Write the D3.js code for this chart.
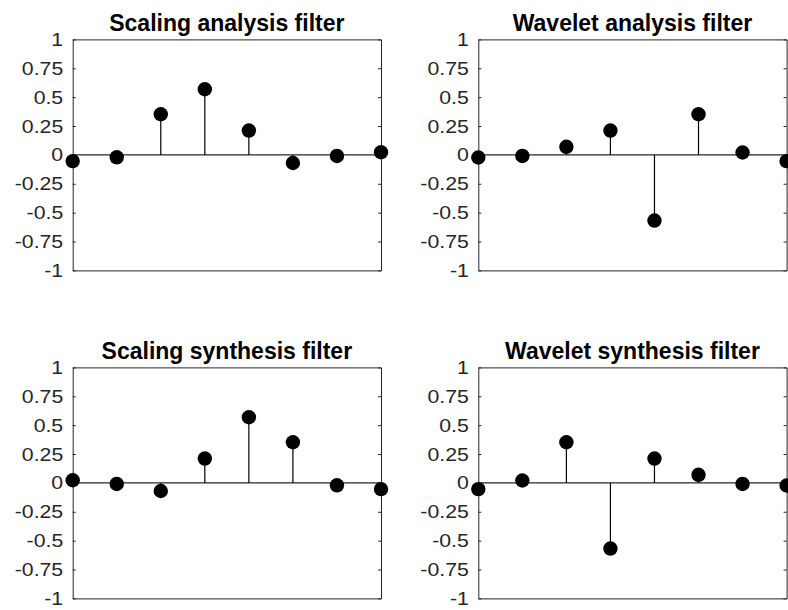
<!DOCTYPE html>
<html>
<head>
<meta charset="utf-8">
<script src="https://cdn.jsdelivr.net/npm/d3@7"></script>
<style>
  html, body { margin: 0; padding: 0; background: #fff; }
  svg { display: block; }
</style>
</head>
<body>
<svg id="chart" width="788" height="610"></svg>
<script>
// Filter taps (8 coefficients each)
const sampleIndex = [1, 2, 3, 4, 5, 6, 7, 8];
const scalingAnalysis  = [-0.0536, -0.0209, 0.3519, 0.5683, 0.2107, -0.0701, -0.0089, 0.0228];
const waveletAnalysis  = [-0.0228, -0.0089, 0.0701, 0.2107, -0.5683, 0.3519, 0.0209, -0.0536];
const scalingSynthesis = [0.0228, -0.0089, -0.0701, 0.2107, 0.5683, 0.3519, -0.0209, -0.0536];
const waveletSynthesis = [-0.0536, 0.0209, 0.3519, -0.5683, 0.2107, 0.0701, -0.0089, -0.0228];

const panelTitles = [
  "Scaling analysis filter",
  "Wavelet analysis filter",
  "Scaling synthesis filter",
  "Wavelet synthesis filter"
];
const yTickValues = [-1, -0.75, -0.5, -0.25, 0, 0.25, 0.5, 0.75, 1];
const yTickLabels = ["-1", "-0.75", "-0.5", "-0.25", "0", "0.25", "0.5", "0.75", "1"];

const panels = [
  { title: panelTitles[0], values: scalingAnalysis,  left: 72.7,  top: 39.4 },
  { title: panelTitles[1], values: waveletAnalysis,  left: 478.3, top: 39.4 },
  { title: panelTitles[2], values: scalingSynthesis, left: 72.7,  top: 367.4 },
  { title: panelTitles[3], values: waveletSynthesis, left: 478.3, top: 367.4 }
];
const W = 308.3, H = 231;
const FONT = "'Liberation Sans', Arial, Helvetica, sans-serif";
const AX = "#262626";
// tick labels use a slightly widened face
const TICK_STRETCH = 1.12, TICK_GAP = 9.5;

const svg = d3.select("#chart");

panels.forEach(p => {
  const g = svg.append("g").attr("transform", `translate(${p.left},${p.top})`);
  const x = d3.scaleLinear().domain([1, 8]).range([0, W]);
  const y = d3.scaleLinear().domain([-1, 1]).range([H, 0]);

  // box: left axis with labels, right axis with ticks only, top and bottom plain lines
  const left = g.append("g").call(
    d3.axisLeft(y).tickValues(yTickValues)
      .tickFormat((d, i) => yTickLabels[i])
      .tickSizeInner(-3).tickSizeOuter(0)
  );
  g.append("g").attr("transform", `translate(${W},0)`).call(
    d3.axisRight(y).tickValues(yTickValues).tickFormat(() => "")
      .tickSizeInner(-3).tickSizeOuter(0)
  );
  g.append("g").call(d3.axisTop(x).tickValues([]).tickSizeOuter(0));
  g.append("g").attr("transform", `translate(0,${H})`)
    .call(d3.axisBottom(x).tickValues([]).tickSizeOuter(0));

  g.selectAll(".domain, .tick line").attr("stroke", AX).attr("stroke-width", 1);
  left.selectAll(".tick text")
    .attr("x", -TICK_GAP / TICK_STRETCH)
    .attr("transform", `scale(${TICK_STRETCH},1)`)
    .attr("fill", AX).style("font-family", FONT).style("font-size", "19px");

  // title
  g.append("text")
    .attr("x", W / 2).attr("y", -8)
    .attr("text-anchor", "middle")
    .style("font-family", FONT).style("font-size", "23px").style("font-weight", "bold")
    .attr("fill", "#000")
    .text(p.title);

  // baseline at zero
  g.append("line")
    .attr("x1", x(1)).attr("x2", x(8))
    .attr("y1", y(0)).attr("y2", y(0))
    .attr("stroke", AX).attr("stroke-width", 1.2);

  const pts = sampleIndex.map((k, i) => ({ k, v: p.values[i] }));

  // stems
  g.selectAll(".stem").data(pts).enter().append("line")
    .attr("class", "stem")
    .attr("x1", d => x(d.k)).attr("x2", d => x(d.k))
    .attr("y1", y(0)).attr("y2", d => y(d.v))
    .attr("stroke", "#000").attr("stroke-width", 1.2);

  // markers
  g.selectAll(".mark").data(pts).enter().append("circle")
    .attr("class", "mark")
    .attr("cx", d => x(d.k)).attr("cy", d => y(d.v))
    .attr("r", 7.2).attr("fill", "#000");
});
</script>
</body>
</html>
